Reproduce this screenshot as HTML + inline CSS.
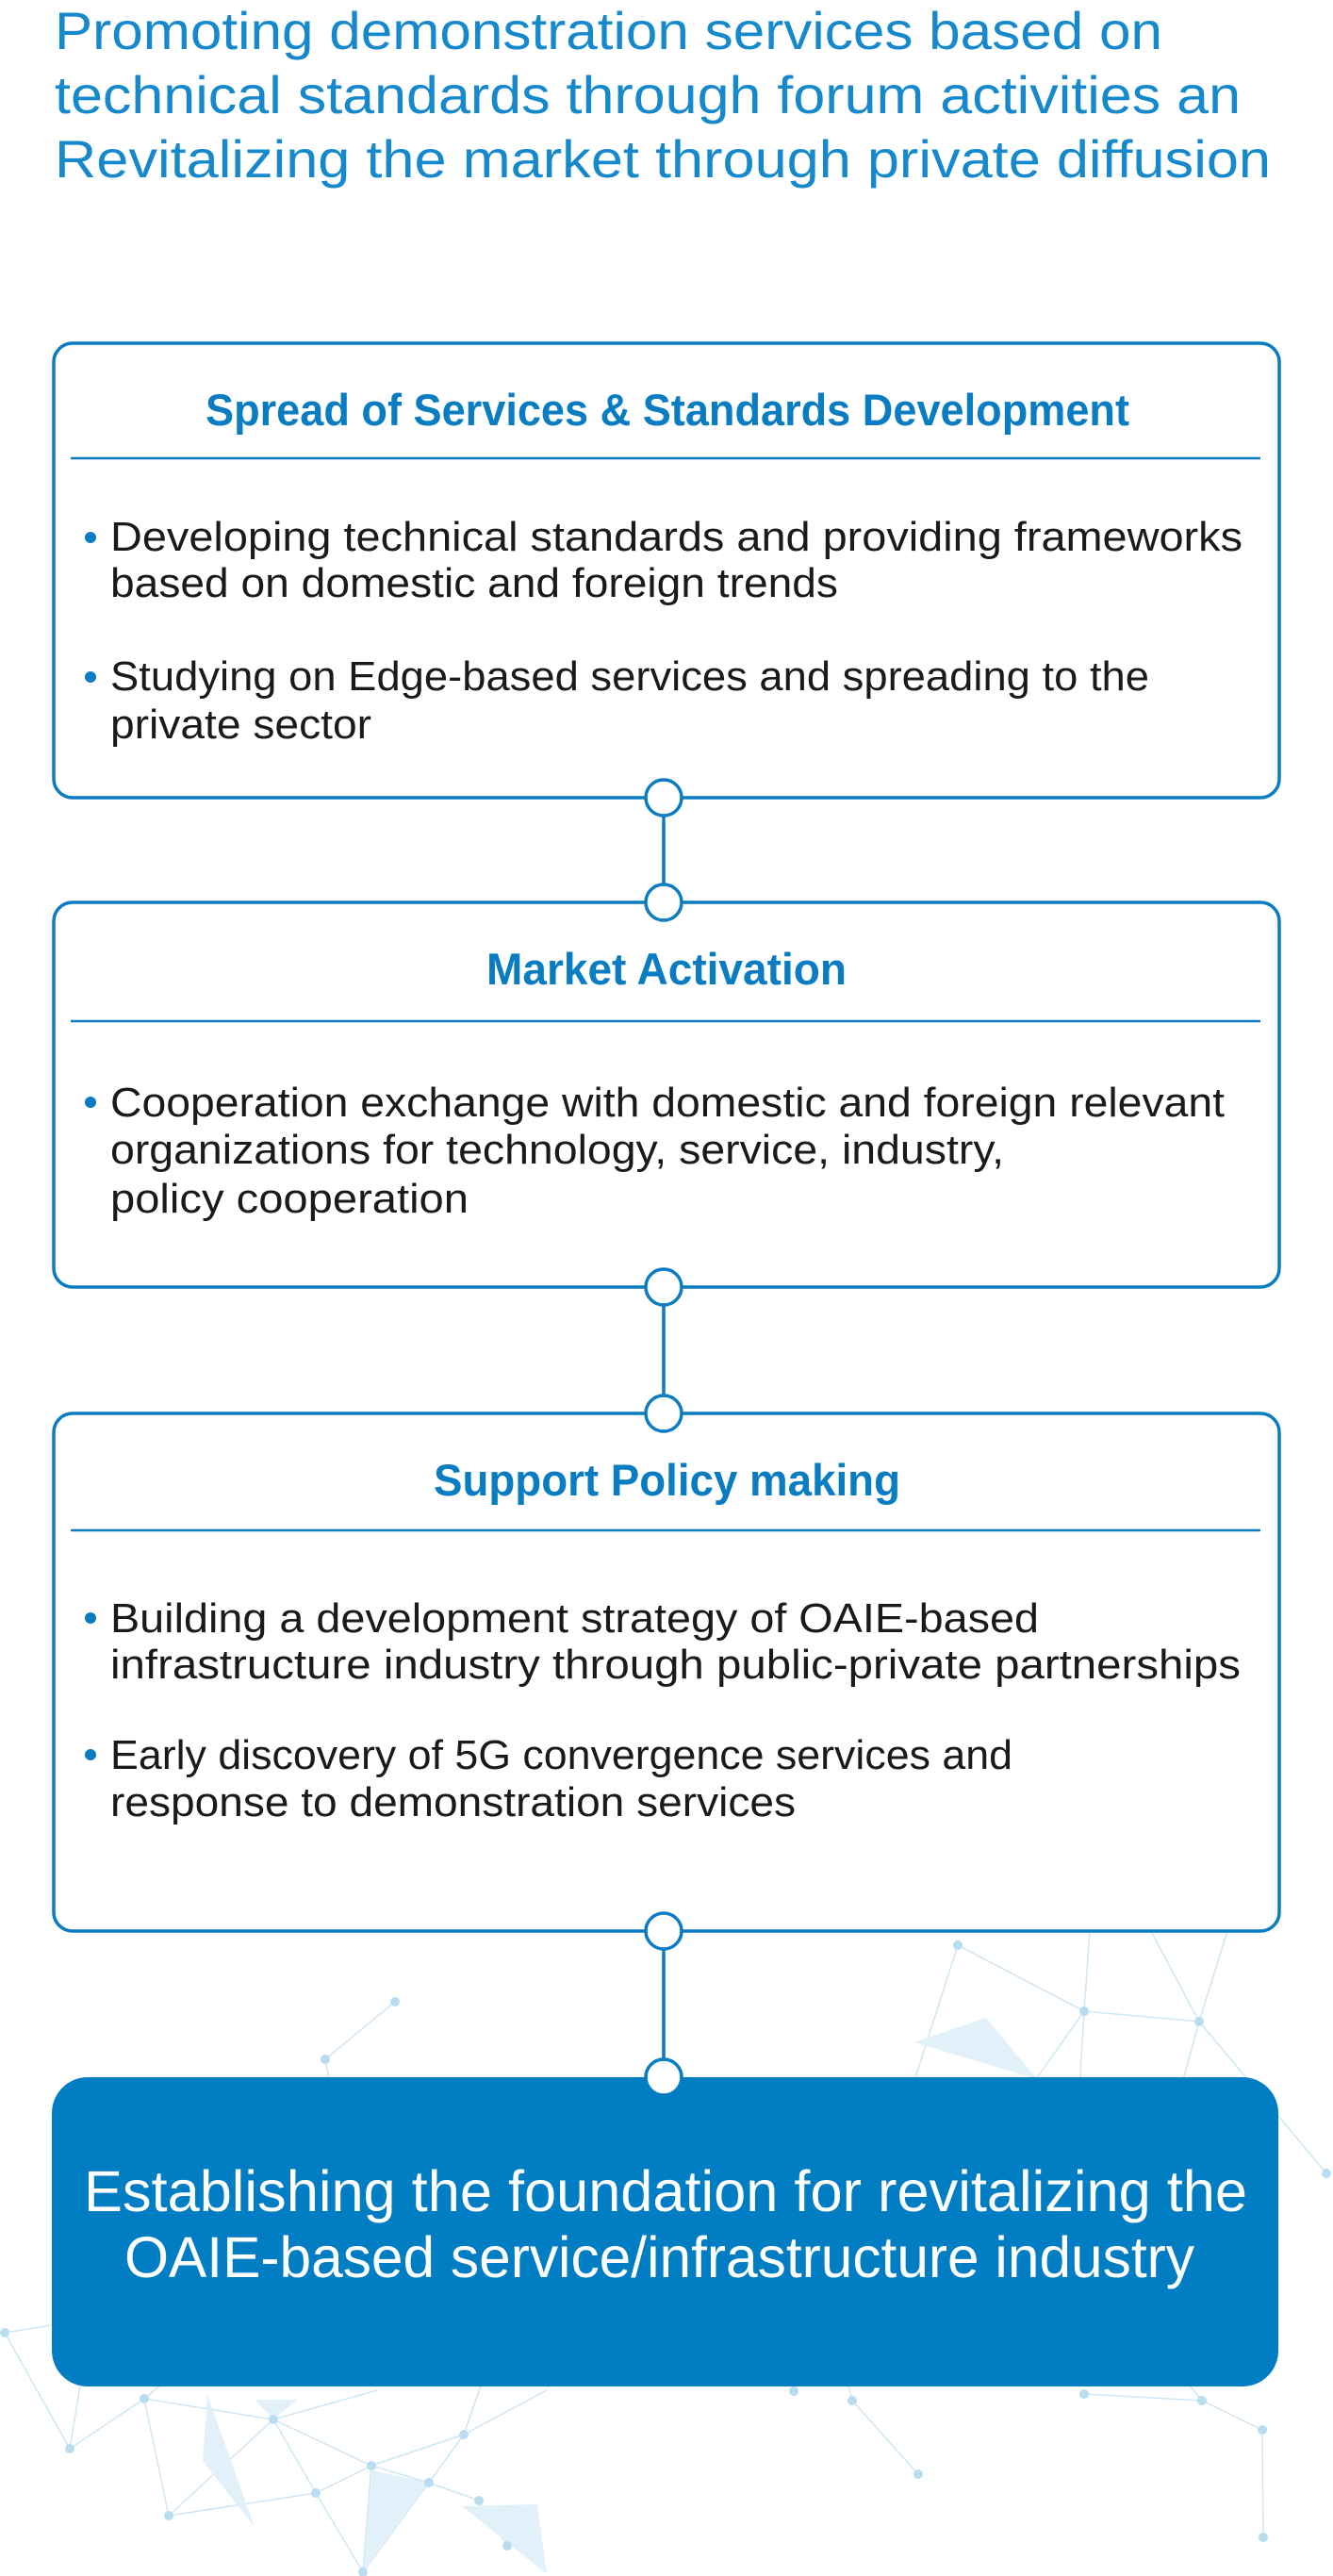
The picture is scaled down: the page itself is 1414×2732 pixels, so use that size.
<!DOCTYPE html>
<html><head><meta charset="utf-8"><style>
html,body{margin:0;padding:0;background:#fff;}
svg{display:block}
text{font-family:"Liberation Sans",sans-serif;}
</style></head><body>
<svg width="1414" height="2732" viewBox="0 0 1414 2732" xmlns="http://www.w3.org/2000/svg">
<g stroke="#cfe6f4" stroke-width="1.5" fill="none">
<path d="M1016 2063 L1150 2133 L1272 2144 L1407 2305"/>
<path d="M1016 2063 L940 2300 M1150 2133 L1140 2300 M1150 2133 L1060 2260 M1272 2144 L1240 2260 M1150 2133 L1160 1990 M1272 2144 L1190 1990 M1272 2144 L1320 1990"/>
<path d="M419 2123 L345 2184 L350 2210"/>
<path d="M5 2474 L74 2597 L153 2544 L290 2566 L394 2615 L455 2633 L508 2652 L538 2700"/>
<path d="M5 2474 L55 2466 M153 2544 L179 2668 L335 2644 L394 2615 L492 2582 L580 2535 M290 2566 L179 2668 M290 2566 L335 2644 L385 2728 L455 2633 L492 2582 L510 2530 M394 2615 L385 2728 M74 2597 L85 2530 M290 2566 L400 2535 M153 2544 L170 2530"/>
<path d="M904 2546 L974 2624 M1150 2539 L1275 2546 L1339 2577 L1340 2691 M1275 2546 L1262 2530 M904 2546 L900 2530"/>
</g>
<g fill="#e2f0f9">
<polygon points="970,2166 1046,2140 1100,2205"/>
<polygon points="220,2540 270,2680 215,2610"/>
<polygon points="270,2545 315,2545 290,2566"/>
<polygon points="395,2620 455,2633 385,2728"/>
<polygon points="490,2658 570,2656 580,2730"/>
</g>
<g fill="#b9dcf0">
<circle cx="1016" cy="2063" r="5"/><circle cx="1150" cy="2133" r="5"/><circle cx="1272" cy="2144" r="5"/><circle cx="1407" cy="2305" r="5"/>
<circle cx="419" cy="2123" r="5"/><circle cx="345" cy="2184" r="5"/><circle cx="5" cy="2474" r="5"/><circle cx="74" cy="2597" r="5"/>
<circle cx="153" cy="2544" r="5"/><circle cx="290" cy="2566" r="5"/><circle cx="394" cy="2615" r="5"/><circle cx="455" cy="2633" r="5"/>
<circle cx="492" cy="2582" r="5"/><circle cx="179" cy="2668" r="5"/><circle cx="335" cy="2644" r="5"/><circle cx="385" cy="2728" r="5"/>
<circle cx="508" cy="2652" r="5"/><circle cx="538" cy="2700" r="5"/><circle cx="904" cy="2546" r="5"/><circle cx="974" cy="2624" r="5"/>
<circle cx="1150" cy="2539" r="5"/><circle cx="1275" cy="2546" r="5"/><circle cx="1339" cy="2577" r="5"/><circle cx="1340" cy="2691" r="5"/><circle cx="842" cy="2536" r="5"/>
</g>

<g fill="#1688cc" font-size="56">
<text x="58" y="52" textLength="1175" lengthAdjust="spacingAndGlyphs">Promoting demonstration services based on</text>
<text x="58" y="120" textLength="1258" lengthAdjust="spacingAndGlyphs">technical standards through forum activities an</text>
<text x="58" y="188" textLength="1290" lengthAdjust="spacingAndGlyphs">Revitalizing the market through private diffusion</text>
</g>

<g stroke="#0a7cc2" stroke-width="3.5">
<line x1="704" y1="846" x2="704" y2="957"/>
<line x1="704" y1="1365" x2="704" y2="1499"/>
<line x1="704" y1="2048" x2="704" y2="2203"/>
</g>

<g fill="#fff" stroke="#0a7cc2" stroke-width="3.5">
<rect x="57" y="364" width="1300" height="482" rx="20"/>
<rect x="57" y="957" width="1300" height="408" rx="20"/>
<rect x="57" y="1499" width="1300" height="549" rx="20"/>
</g>
<rect x="55" y="2203" width="1301" height="328" rx="38" fill="#007dc3"/>
<g stroke="#0a7cc2" stroke-width="2.5">
<line x1="75" y1="486" x2="1337" y2="486"/>
<line x1="75" y1="1083" x2="1337" y2="1083"/>
<line x1="75" y1="1623" x2="1337" y2="1623"/>
</g>
<g fill="#fff" stroke="#0a7cc2" stroke-width="3.5">
<circle cx="704" cy="846" r="19"/><circle cx="704" cy="957" r="19"/>
<circle cx="704" cy="1365" r="19"/><circle cx="704" cy="1499" r="19"/>
<circle cx="704" cy="2048" r="19"/>
</g>
<circle cx="704" cy="2203" r="19" fill="#fff" stroke="#007dc3" stroke-width="3.5"/>

<g fill="#0a7cc2" font-size="47" font-weight="bold">
<text x="218" y="451" textLength="980" lengthAdjust="spacingAndGlyphs">Spread of Services &amp; Standards Development</text>
<text x="516" y="1044" textLength="382" lengthAdjust="spacingAndGlyphs">Market Activation</text>
<text x="460" y="1586" textLength="495" lengthAdjust="spacingAndGlyphs">Support Policy making</text>
</g>

<g fill="#0a7cc2">
<circle cx="96" cy="570" r="6"/><circle cx="96" cy="718" r="6"/>
<circle cx="96" cy="1169" r="6"/>
<circle cx="96" cy="1716" r="6"/><circle cx="96" cy="1861" r="6"/>
</g>
<g fill="#1a1a1a" font-size="44">
<text x="117" y="584" textLength="1201" lengthAdjust="spacingAndGlyphs">Developing technical standards and providing  frameworks</text>
<text x="117" y="633" textLength="772" lengthAdjust="spacingAndGlyphs">based on domestic and foreign trends</text>
<text x="117" y="732" textLength="1102" lengthAdjust="spacingAndGlyphs">Studying on Edge-based services and spreading to the</text>
<text x="117" y="783" textLength="277" lengthAdjust="spacingAndGlyphs">private sector</text>
<text x="117" y="1184" textLength="1182" lengthAdjust="spacingAndGlyphs">Cooperation exchange with domestic and foreign relevant</text>
<text x="117" y="1234" textLength="948" lengthAdjust="spacingAndGlyphs">organizations for technology, service, industry,</text>
<text x="117" y="1286" textLength="380" lengthAdjust="spacingAndGlyphs">policy cooperation</text>
<text x="117" y="1731" textLength="985" lengthAdjust="spacingAndGlyphs">Building a development strategy of OAIE-based</text>
<text x="117" y="1780" textLength="1199" lengthAdjust="spacingAndGlyphs">infrastructure industry through public-private partnerships</text>
<text x="117" y="1876" textLength="957" lengthAdjust="spacingAndGlyphs">Early discovery of 5G convergence services and</text>
<text x="117" y="1926" textLength="727" lengthAdjust="spacingAndGlyphs">response to demonstration services</text>
</g>

<g fill="#fff" font-size="61">
<text x="89" y="2345" textLength="1234" lengthAdjust="spacingAndGlyphs">Establishing the foundation for revitalizing the</text>
<text x="132" y="2415" textLength="1135" lengthAdjust="spacingAndGlyphs">OAIE-based service/infrastructure industry</text>
</g>
</svg>
</body></html>
